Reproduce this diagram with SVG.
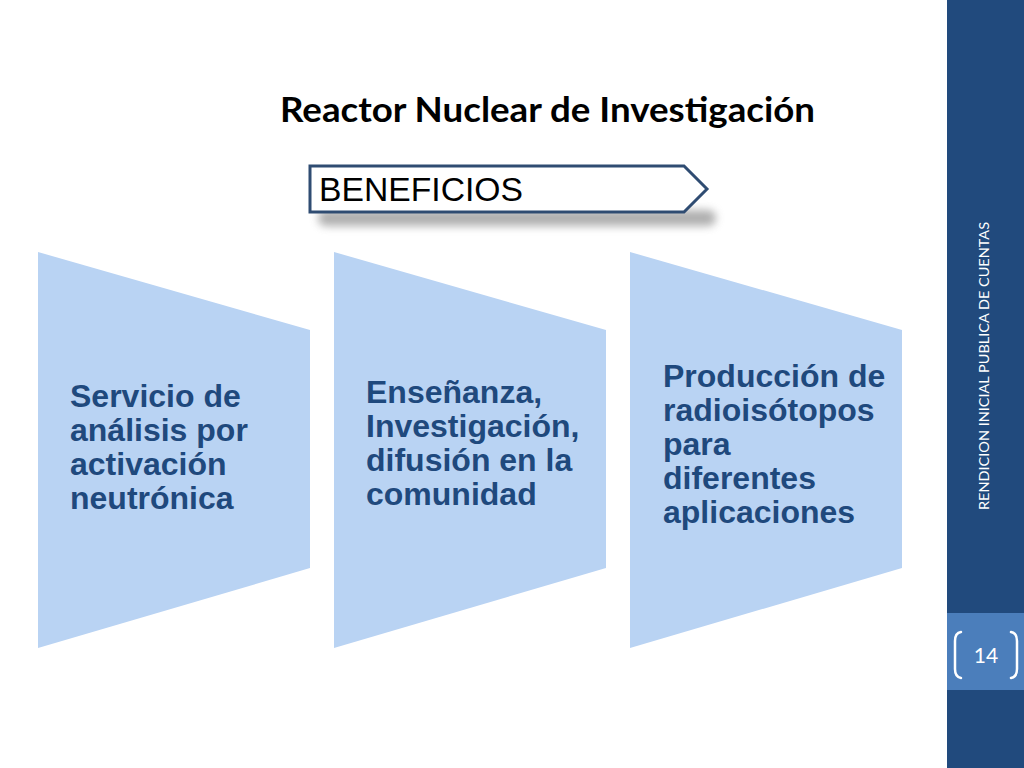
<svg xmlns="http://www.w3.org/2000/svg" width="1024" height="768" viewBox="0 0 1024 768">
<defs>
<filter id="blur" x="-10%" y="-100%" width="120%" height="300%"><feGaussianBlur stdDeviation="4"/></filter>
<style>
.panel{fill:#B9D3F3;}
.lbl{font-family:"Liberation Sans",Arial,sans-serif;font-weight:bold;font-size:32px;fill:#1F497D;}
.side{font-family:"Lato","Open Sans",sans-serif;fill:#FFFFFF;}
</style>
</defs>
<rect x="0" y="0" width="1024" height="768" fill="#FFFFFF"/>
<g id="sidebar">
<rect x="947" y="0" width="77" height="768" fill="#214A7D"/>
<rect x="947" y="613" width="77" height="77" fill="#4B7EBB"/>
<text class="side" font-size="13" transform="translate(989,510) rotate(-90)" textLength="288" lengthAdjust="spacingAndGlyphs">RENDICION INICIAL PUBLICA DE CUENTAS</text>
<path d="M961,632 Q955,633 955,641 L955,669 Q955,677 961,678" fill="none" stroke="#FFFFFF" stroke-width="2.5" stroke-linecap="round"/>
<path d="M1011,632 Q1017,633 1017,641 L1017,669 Q1017,677 1011,678" fill="none" stroke="#FFFFFF" stroke-width="2.5" stroke-linecap="round"/>
<text class="side" font-size="21" x="986" y="663" text-anchor="middle">14</text>
</g>
<g id="title">
<text x="280" y="122" font-family="Lato,'Open Sans',sans-serif" font-weight="bold" font-size="35" fill="#000000" textLength="535" lengthAdjust="spacingAndGlyphs">Reactor Nuclear de Investigación</text>
</g>
<g id="beneficios">
<rect x="318" y="210" width="398" height="16" rx="8" fill="#7A7A7A" opacity="0.6" filter="url(#blur)"/>
<path d="M310,166 L684,166 L707,189 L684,212 L310,212 Z" fill="#FFFFFF" stroke="#2F4C72" stroke-width="3" stroke-linejoin="miter"/>
<text x="319" y="201" font-family="'Liberation Sans',Arial,sans-serif" font-size="34" fill="#000000" textLength="204" lengthAdjust="spacingAndGlyphs">BENEFICIOS</text>
</g>
<g id="node1">
<polygon class="panel" points="38,252 310,330 310,568 38,648"/>
<text class="lbl"><tspan x="70" y="407">Servicio de</tspan><tspan x="70" y="441">análisis por</tspan><tspan x="70" y="475">activación</tspan><tspan x="70" y="509">neutrónica</tspan></text>
</g>
<g id="node2">
<polygon class="panel" points="334,252 606,330 606,568 334,648"/>
<text class="lbl"><tspan x="366" y="403">Enseñanza,</tspan><tspan x="366" y="437">Investigación,</tspan><tspan x="366" y="471">difusión en la</tspan><tspan x="366" y="505">comunidad</tspan></text>
</g>
<g id="node3">
<polygon class="panel" points="630,252 902,330 902,568 630,648"/>
<text class="lbl"><tspan x="663" y="387">Producción de</tspan><tspan x="663" y="421">radioisótopos</tspan><tspan x="663" y="455">para</tspan><tspan x="663" y="489">diferentes</tspan><tspan x="663" y="523">aplicaciones</tspan></text>
</g>
<g id="connectors"></g>
</svg>
